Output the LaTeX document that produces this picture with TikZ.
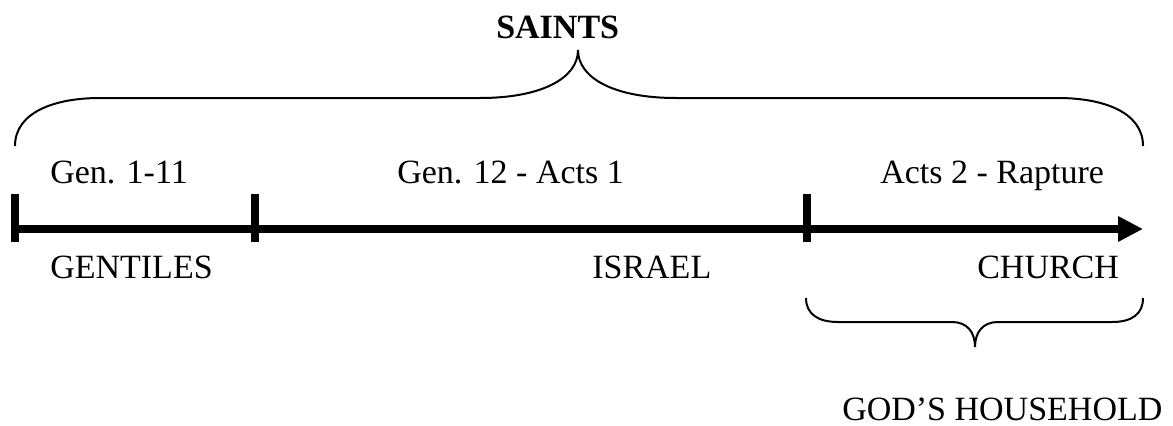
\documentclass[tikz,border=0pt]{standalone}
\usepackage{fontspec}
\setmainfont{Liberation Serif}
\usepackage{tikz}
\usetikzlibrary{graphs}
\usetikzlibrary{arrows.meta}

\tikzset{
    era text/.style={inner sep=0pt, anchor=base west, font=\fontsize{25.5}{30}\selectfont},
    timeline/.style={line width=6pt},
    tick mark/.style={line width=6pt},
    brace line/.style={line width=1.5pt},
}

\begin{document}
\begin{tikzpicture}[x=0.75pt, y=-0.75pt, >={Triangle[length=18.75pt,width=18pt]}]
        \useasboundingbox (0,0) rectangle (1173,425);

        \coordinate (t0)  at (15, 229);
        \coordinate (t1)  at (255, 229);
        \coordinate (t2)  at (807, 229);
        \coordinate (tip) at (1143, 229);

        \coordinate (t0 top) at (15, 194);
        \coordinate (t0 bot) at (15, 242);
        \coordinate (t1 top) at (255, 194);
        \coordinate (t1 bot) at (255, 242);
        \coordinate (t2 top) at (807, 194);
        \coordinate (t2 bot) at (807, 242);

        \node[era text] (gen)       at (50, 183)  {Gen. 1-11};
        \node[era text] (genacts)   at (397, 183) {Gen. 12 - Acts 1};
        \node[era text] (acts)      at (880, 183) {Acts 2 - Rapture};
        \node[era text] (gentiles)  at (50, 278)  {GENTILES};
        \node[era text] (israel)    at (592, 278) {ISRAEL};
        \node[era text] (church)    at (977, 278) {CHURCH};
        \node[era text, font=\fontsize{25.5}{30}\selectfont\bfseries] (saints) at (496, 38) {SAINTS};
        \node[era text] (household) at (842, 420) {GOD’S HOUSEHOLD};

        \graph {(t0) --[timeline] (t1) --[timeline] (t2) ->[timeline] (tip)};
        \graph {(t0 top) --[tick mark] (t0 bot)};
        \graph {(t1 top) --[tick mark] (t1 bot)};
        \graph {(t2 top) --[tick mark] (t2 bot)};

        % braces
        \draw[brace line] (15, 146) .. controls (15, 112) and (55, 98) .. (100, 98)
            -- (480, 98) .. controls (542, 98) and (578, 78) .. (578, 50)
            .. controls (578, 78) and (614, 98) .. (676, 98)
            -- (1058, 98) .. controls (1103, 98) and (1143, 112) .. (1143, 146);
        \draw[brace line] (806, 298) .. controls (806, 314) and (818, 322) .. (838, 322)
            -- (952, 322) .. controls (967, 322) and (975, 332) .. (975, 347)
            .. controls (975, 332) and (983, 322) .. (998, 322)
            -- (1112, 322) .. controls (1132, 322) and (1143, 314) .. (1143, 298);
    \end{tikzpicture}
\end{document}
